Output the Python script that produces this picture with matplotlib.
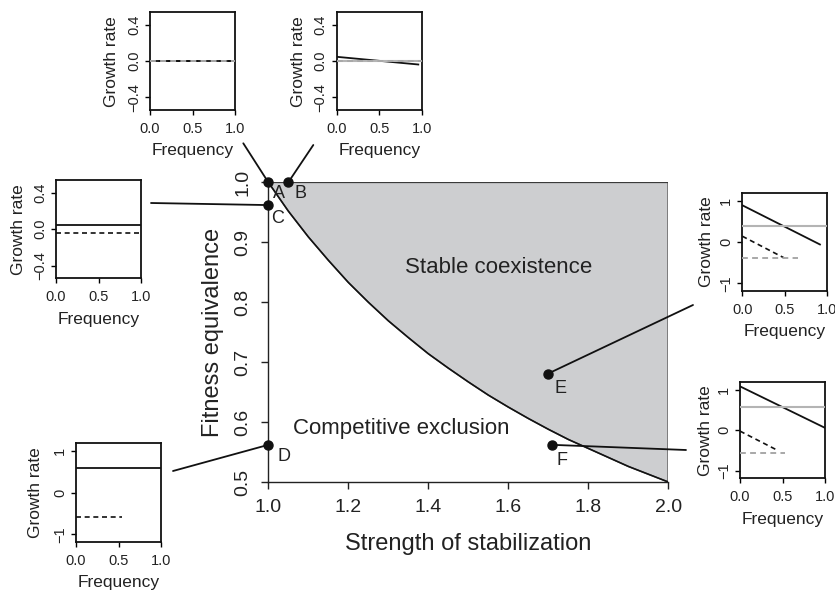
import matplotlib
matplotlib.use('Agg')
import matplotlib.pyplot as plt
from matplotlib.patches import ConnectionPatch

plt.rcParams['font.family'] = ['Liberation Sans', 'DejaVu Sans']
plt.rcParams['axes.unicode_minus'] = True

# boundary between coexistence and exclusion
stabilization = [1.00, 1.05, 1.10, 1.15, 1.20, 1.25, 1.30, 1.35, 1.40, 1.45, 1.50,
                 1.55, 1.60, 1.65, 1.70, 1.75, 1.80, 1.85, 1.90, 1.95, 2.00]
fitness_boundary = [1.000, 0.952, 0.909, 0.870, 0.833, 0.800, 0.769, 0.741, 0.714, 0.690, 0.667,
                    0.645, 0.625, 0.606, 0.588, 0.571, 0.556, 0.541, 0.526, 0.513, 0.500]

# labelled scenarios
point_labels = ['A', 'B', 'C', 'D', 'E', 'F']
point_x = [1.00, 1.05, 1.00, 1.00, 1.70, 1.71]
point_y = [1.000, 1.000, 0.962, 0.562, 0.681, 0.562]

# inset growth-rate lines: (x, y) pairs per scenario
solid_black = {
    'A': ([0, 1], [0, 0]),
    'B': ([0, 0.96], [0.048, -0.037]),
    'C': ([0, 1], [0.047, 0.047]),
    'D': ([0, 1], [0.58, 0.58]),
    'E': ([0, 0.92], [0.89, -0.06]),
    'F': ([0, 1], [1.08, 0.06]),
}
dashed_black = {
    'A': ([0, 1], [0, 0]),
    'C': ([0, 1], [-0.037, -0.037]),
    'D': ([0, 0.54], [-0.58, -0.58]),
    'E': ([0, 0.50], [0.14, -0.39]),
    'F': ([0, 0.43], [-0.02, -0.48]),
}
solid_gray = {
    'B': ([0, 1], [0.004, 0.004]),
    'E': ([0, 1], [0.38, 0.38]),
    'F': ([0, 1], [0.57, 0.57]),
}
dashed_gray = {
    'A': ([0, 1], [0, 0]),
    'B': ([0, 1], [0, 0]),
    'E': ([0, 0.66], [-0.39, -0.39]),
    'F': ([0, 0.53], [-0.57, -0.57]),
}
small_ticks = [-0.4, 0.0, 0.4]
small_ticklabels = ['\u22120.4', '0.0', '0.4']
big_ticks = [-1, 0, 1]
big_ticklabels = ['\u22121', '0', '1']
freq_ticks = [0.0, 0.5, 1.0]
freq_ticklabels = ['0.0', '0.5', '1.0']

W, H = 835, 592
fig = plt.figure(figsize=(W / 100, H / 100), dpi=100)

def px_box(x0, x1, y0, y1):
    return [x0 / W, 1 - y1 / H, (x1 - x0) / W, (y1 - y0) / H]

def px(x, y):
    return (x / W, 1 - y / H)

# ---- main panel
ax = fig.add_axes(px_box(268.3, 668.3, 182.3, 482))
ax.fill(stabilization + [2.0], fitness_boundary + [1.0], facecolor='#cdced0',
        edgecolor='#3a3a3a', lw=1.2, zorder=1)
ax.plot(stabilization, fitness_boundary, color='#111111', lw=1.0, zorder=2)
ax.set_xlim(1, 2)
ax.set_ylim(0.5, 1.0)
ax.set_xticks([1.0, 1.2, 1.4, 1.6, 1.8, 2.0])
ax.set_yticks([0.5, 0.6, 0.7, 0.8, 0.9, 1.0])
ax.set_xticklabels(['1.0', '1.2', '1.4', '1.6', '1.8', '2.0'])
ax.set_yticklabels(['0.5', '0.6', '0.7', '0.8', '0.9', '1.0'])
for s in ['top', 'right']:
    ax.spines[s].set_visible(False)
for s in ['left', 'bottom']:
    ax.spines[s].set_linewidth(1.0)
    ax.spines[s].set_color('#222222')
ax.tick_params(length=5, width=1.0, color='#222222', labelsize=14, labelcolor='#222222')
ax.tick_params(axis='x', pad=7)
ax.tick_params(axis='y', pad=7, labelrotation=90)
for t in ax.get_yticklabels():
    t.set_va('center')
ax.set_xlabel('Strength of stabilization', fontsize=17, color='#222222', va='center')
ax.xaxis.set_label_coords(0.5, -62 / 300)
ax.set_ylabel('Fitness equivalence', fontsize=17, color='#222222', va='center')
ax.yaxis.set_label_coords(-55.5 / 400, 0.5)
ax.text(1.577, 0.858, 'Stable coexistence', fontsize=16, ha='center', va='center', color='#222222')
ax.text(1.332, 0.590, 'Competitive exclusion', fontsize=16, ha='center', va='center', color='#222222')

# ---- insets
inset_boxes = {
    'A': (150, 235, 12.3, 110),
    'B': (336.7, 421.7, 12.3, 110),
    'C': (56, 141, 180, 278.3),
    'D': (76, 161, 443.3, 541.7),
    'E': (742.3, 826.7, 193.3, 290.7),
    'F': (740, 825, 382.3, 478.3),
}
ylabel_gap = {'A': 38, 'B': 38, 'C': 37, 'D': 40, 'E': 36, 'F': 34}
connector_ends = {
    'A': (243.3, 143.3),
    'B': (313.3, 145),
    'C': (151, 203),
    'D': (173, 471),
    'E': (693, 305),
    'F': (686, 450),
}
label_offsets = {
    'A': (8, -8), 'B': (8.5, -8), 'C': (7, -9.5),
    'D': (11, -8.5), 'E': (8.5, -11), 'F': (7, -11.5),
}

for lab in point_labels:
    x0, x1, y0, y1 = inset_boxes[lab]
    ia = fig.add_axes(px_box(x0, x1, y0, y1))
    if lab in ('A', 'B', 'C'):
        ia.set_ylim(-0.54, 0.54)
        ia.set_yticks(small_ticks)
        ia.set_yticklabels(small_ticklabels)
    else:
        ia.set_ylim(-1.18, 1.18)
        ia.set_yticks(big_ticks)
        ia.set_yticklabels(big_ticklabels)
    ia.set_xlim(0, 1)
    ia.set_xticks(freq_ticks)
    ia.set_xticklabels(freq_ticklabels)
    if lab in solid_black:
        ia.plot(*solid_black[lab], color='#111111', lw=1.3, zorder=2)
    if lab in dashed_black:
        ia.plot(*dashed_black[lab], color='#111111', lw=1.2, dashes=(3, 2.2), zorder=2)
    if lab in solid_gray:
        ia.plot(*solid_gray[lab], color='#b4b4b4', lw=1.5, zorder=3)
    if lab in dashed_gray:
        ia.plot(*dashed_gray[lab], color='#a8a8a8', lw=1.4, dashes=(3, 2.2), zorder=4)
    for s in ia.spines.values():
        s.set_linewidth(1.3)
        s.set_color('#111111')
    ia.tick_params(length=3.5, width=1.0, labelsize=10.5, labelcolor='#222222')
    ia.tick_params(axis='x', pad=5)
    ia.tick_params(axis='y', pad=3, labelrotation=90)
    for t in ia.get_yticklabels():
        t.set_va('center')
    bh = y1 - y0
    bw = x1 - x0
    ia.set_xlabel('Frequency', fontsize=12.5, color='#222222', va='center')
    ia.xaxis.set_label_coords(0.5, -41 / bh)
    ia.set_ylabel('Growth rate', fontsize=12.5, color='#222222', va='center')
    ia.yaxis.set_label_coords(-ylabel_gap[lab] / bw, 0.5)

# ---- connectors, points and letters
for lab, x, y in zip(point_labels, point_x, point_y):
    con = ConnectionPatch(xyA=(x, y), coordsA='data', axesA=ax,
                          xyB=px(*connector_ends[lab]), coordsB='figure fraction',
                          color='#111111', lw=1.3, zorder=5)
    fig.add_artist(con)
    ax.plot(x, y, 'o', color='#111111', ms=6.5, clip_on=False, zorder=6)
    ax.annotate(lab, (x, y), xytext=label_offsets[lab], textcoords='offset points',
                fontsize=13, ha='center', va='center', color='#222222', zorder=7)

fig.savefig('out.png', dpi=100)
